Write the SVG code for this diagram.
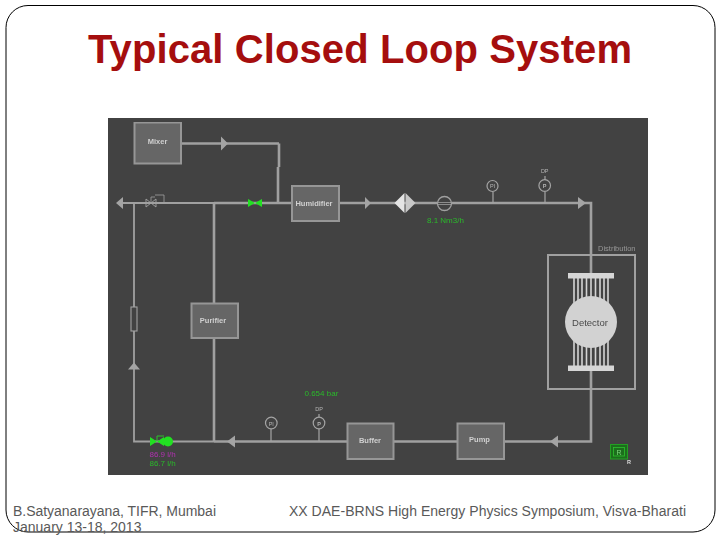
<svg xmlns="http://www.w3.org/2000/svg" width="720" height="540" viewBox="0 0 720 540">
<defs><filter id="soft" x="0" y="0" width="1" height="1"><feGaussianBlur stdDeviation="0.45"/></filter></defs>
<style>
text{font-family:"Liberation Sans",Arial,sans-serif}
.foot{font-size:14px;fill:#595959}
.box{fill:#666;stroke:#969696;stroke-width:2}
.lbl{font-size:7.500px;font-weight:bold;fill:#d0d0d0;text-anchor:middle}
.pipe{fill:none;stroke:#a0a0a0;stroke-width:2.600}
.mid{fill:none;stroke:#a0a0a0;stroke-width:1.800}
.thin{fill:none;stroke:#a0a0a0;stroke-width:1.800}
.arr{fill:#a4a4a4}
.ins{fill:none;stroke:#a4a4a4;stroke-width:1.200}
.small{font-size:5.500px;fill:#b4b4b4;text-anchor:middle}
.grn{fill:#2ab82a;font-size:8px}
.vg{fill:#22e022}
.st{stroke:#d4d4d4;stroke-width:1.600}
</style>
<rect id="frame" x="6" y="5.500" width="709" height="526.500" rx="22" fill="#fff" stroke="#000" stroke-width="1"/>
<text id="title" x="360" y="63" text-anchor="middle" font-size="40" font-weight="bold" fill="#a50e0e" textLength="544">Typical Closed Loop System</text>
<rect id="panel" x="108" y="118" width="540" height="357" fill="#424242"/>
<g id="diagram" filter="url(#soft)">
<g id="connectors">
<path class="pipe" d="M181 143.500H279M279 143.500V167M278 167V203"/>
<path class="thin" d="M122 203H214"/>
<path class="pipe" d="M214 203H292M339 203H591V255M214 203V303M214 338V441.500M347 441.500H214"/>
<path class="mid" d="M214 441.500H134V203"/>
<path class="pipe" d="M591 255V273M591 371V441.500H504M457 441.500H393"/>
<path class="ins" d="M493 203V192M545 203V192M271 441.500V429M319 441.500V429M545 180V176M319 417V414"/>
<path class="arr" d="M116 203l7-6v12zM221 136.500l7 7-7 7zM365 197l6 6-6 6zM578 197l8 6-8 6zM128 369.500l6-7 6 7zM227 441.500l8-6v12zM550 441.500l8-6v12z"/>
</g>
<g id="mixer"><rect class="box" x="134.500" y="122.500" width="46.500" height="41"/><text class="lbl" x="157.500" y="144">Mixer</text></g>
<g id="humidifier"><rect class="box" x="292" y="186" width="47" height="35"/><text class="lbl" x="314" y="206">Humidifier</text></g>
<g id="purifier"><rect class="box" x="191.500" y="303.500" width="46.500" height="34.500"/><text class="lbl" x="213" y="323">Purifier</text></g>
<g id="buffer"><rect class="box" x="347.500" y="423.500" width="46" height="35.500"/><text class="lbl" x="370" y="443">Buffer</text></g>
<g id="pump"><rect class="box" x="457.500" y="423.500" width="46.500" height="35.500"/><text class="lbl" x="479.500" y="442">Pump</text></g>
<g id="back-valve"><path d="M146 199l10 8v-8l-10 8z" fill="none" stroke="#a0a0a0" stroke-width=".9"/><path d="M151 203v-6h4M155 195h9v8" fill="none" stroke="#a0a0a0" stroke-width=".8"/></g>
<g id="green-valve"><path class="vg" d="M248 199l7 4-7 4zM262 199l-7 4 7 4z"/></g>
<g id="filter"><path d="M404.500 193l-10 10 10 10z" fill="#e4e4e4"/><path d="M405.500 193l10 10-10 10z" fill="#c8c8c8"/></g>
<g id="flowmeter"><circle cx="444.500" cy="203.500" r="7" fill="#424242" stroke="#a0a0a0" stroke-width="1.300"/><path d="M437.500 202.500H451.500M437.500 204.500H451.500" stroke="#a0a0a0" stroke-width=".8"/><text class="grn" x="427" y="222.500">8.1 Nm3/h</text></g>
<g id="pi-top"><circle class="ins" cx="492.500" cy="186" r="5.500"/><text class="small" x="492.500" y="188">PI</text></g>
<g id="p-top"><circle class="ins" cx="544.700" cy="185.500" r="5.800"/><text class="small" x="544.700" y="188" font-weight="bold">P</text><text class="small" x="544.700" y="173">DP</text></g>
<g id="distribution"><rect x="548" y="255" width="87" height="134" fill="none" stroke="#a0a0a0" stroke-width="2"/><text x="598" y="251" font-size="7.500" fill="#969696">Distribution</text></g>
<g id="detector">
<path class="st" d="M574 278V305M578 278V305M582 278V305M586.500 278V305M591 278V305M595.500 278V305M600 278V305M604 278V305M608 278V305"/>
<path class="st" d="M574 340V366M578 340V366M582 340V366M586.500 340V366M591 340V366M595.500 340V366M600 340V366M604 340V366M608 340V366"/>
<rect x="568" y="273" width="46" height="5.500" fill="#d6d6d6"/><rect x="568" y="365.500" width="46" height="5.500" fill="#d6d6d6"/>
<circle cx="591" cy="322" r="26" fill="#d2d2d2"/><text x="590" y="325.500" text-anchor="middle" font-size="9.500" fill="#4a4a4a">Detector</text></g>
<g id="rotameter"><rect x="131" y="307" width="6" height="24" fill="#424242" stroke="#a0a0a0" stroke-width="1.100"/></g>
<g id="green-control"><path class="vg" d="M150 437l7 4.500-7 4.500zM164 437l-7 4.500 7 4.500z"/><circle class="vg" cx="168" cy="441.500" r="5"/><path d="M157 441v-5h7" fill="none" stroke="#22e022" stroke-width=".8"/>
<text x="149.500" y="456.500" font-size="8" fill="#b030b0">86.9 l/h</text><text class="grn" x="149.500" y="465.500">86.7 l/h</text></g>
<g id="pi-bottom"><circle class="ins" cx="271.300" cy="423" r="5.800"/><text class="small" x="271.300" y="425.500">PI</text></g>
<g id="p-bottom"><circle class="ins" cx="319" cy="423" r="5.800"/><text class="small" x="319" y="425.500" font-weight="bold">P</text><text class="small" x="319" y="410.500">DP</text><text class="grn" x="304.500" y="395.500">0.654 bar</text></g>
<g id="r-indicator"><rect x="610.500" y="444.500" width="17" height="14.500" fill="#1e6e1e" stroke="#22a022"/><rect x="613.500" y="447.500" width="11" height="8.500" fill="#1e6e1e" stroke="#2ec02e" stroke-width=".8"/><text x="619" y="454.500" text-anchor="middle" font-size="7" fill="#7cd67c">R</text><text x="629" y="464" text-anchor="middle" font-size="5.500" font-weight="bold" fill="#ddd">R</text></g>
</g>
<g id="footer"><text class="foot" x="13" y="516" textLength="203">B.Satyanarayana, TIFR, Mumbai</text><text class="foot" x="13" y="532">January 13-18, 2013</text><text class="foot" x="289" y="516" textLength="397">XX DAE-BRNS High Energy Physics Symposium, Visva-Bharati</text></g>
</svg>
